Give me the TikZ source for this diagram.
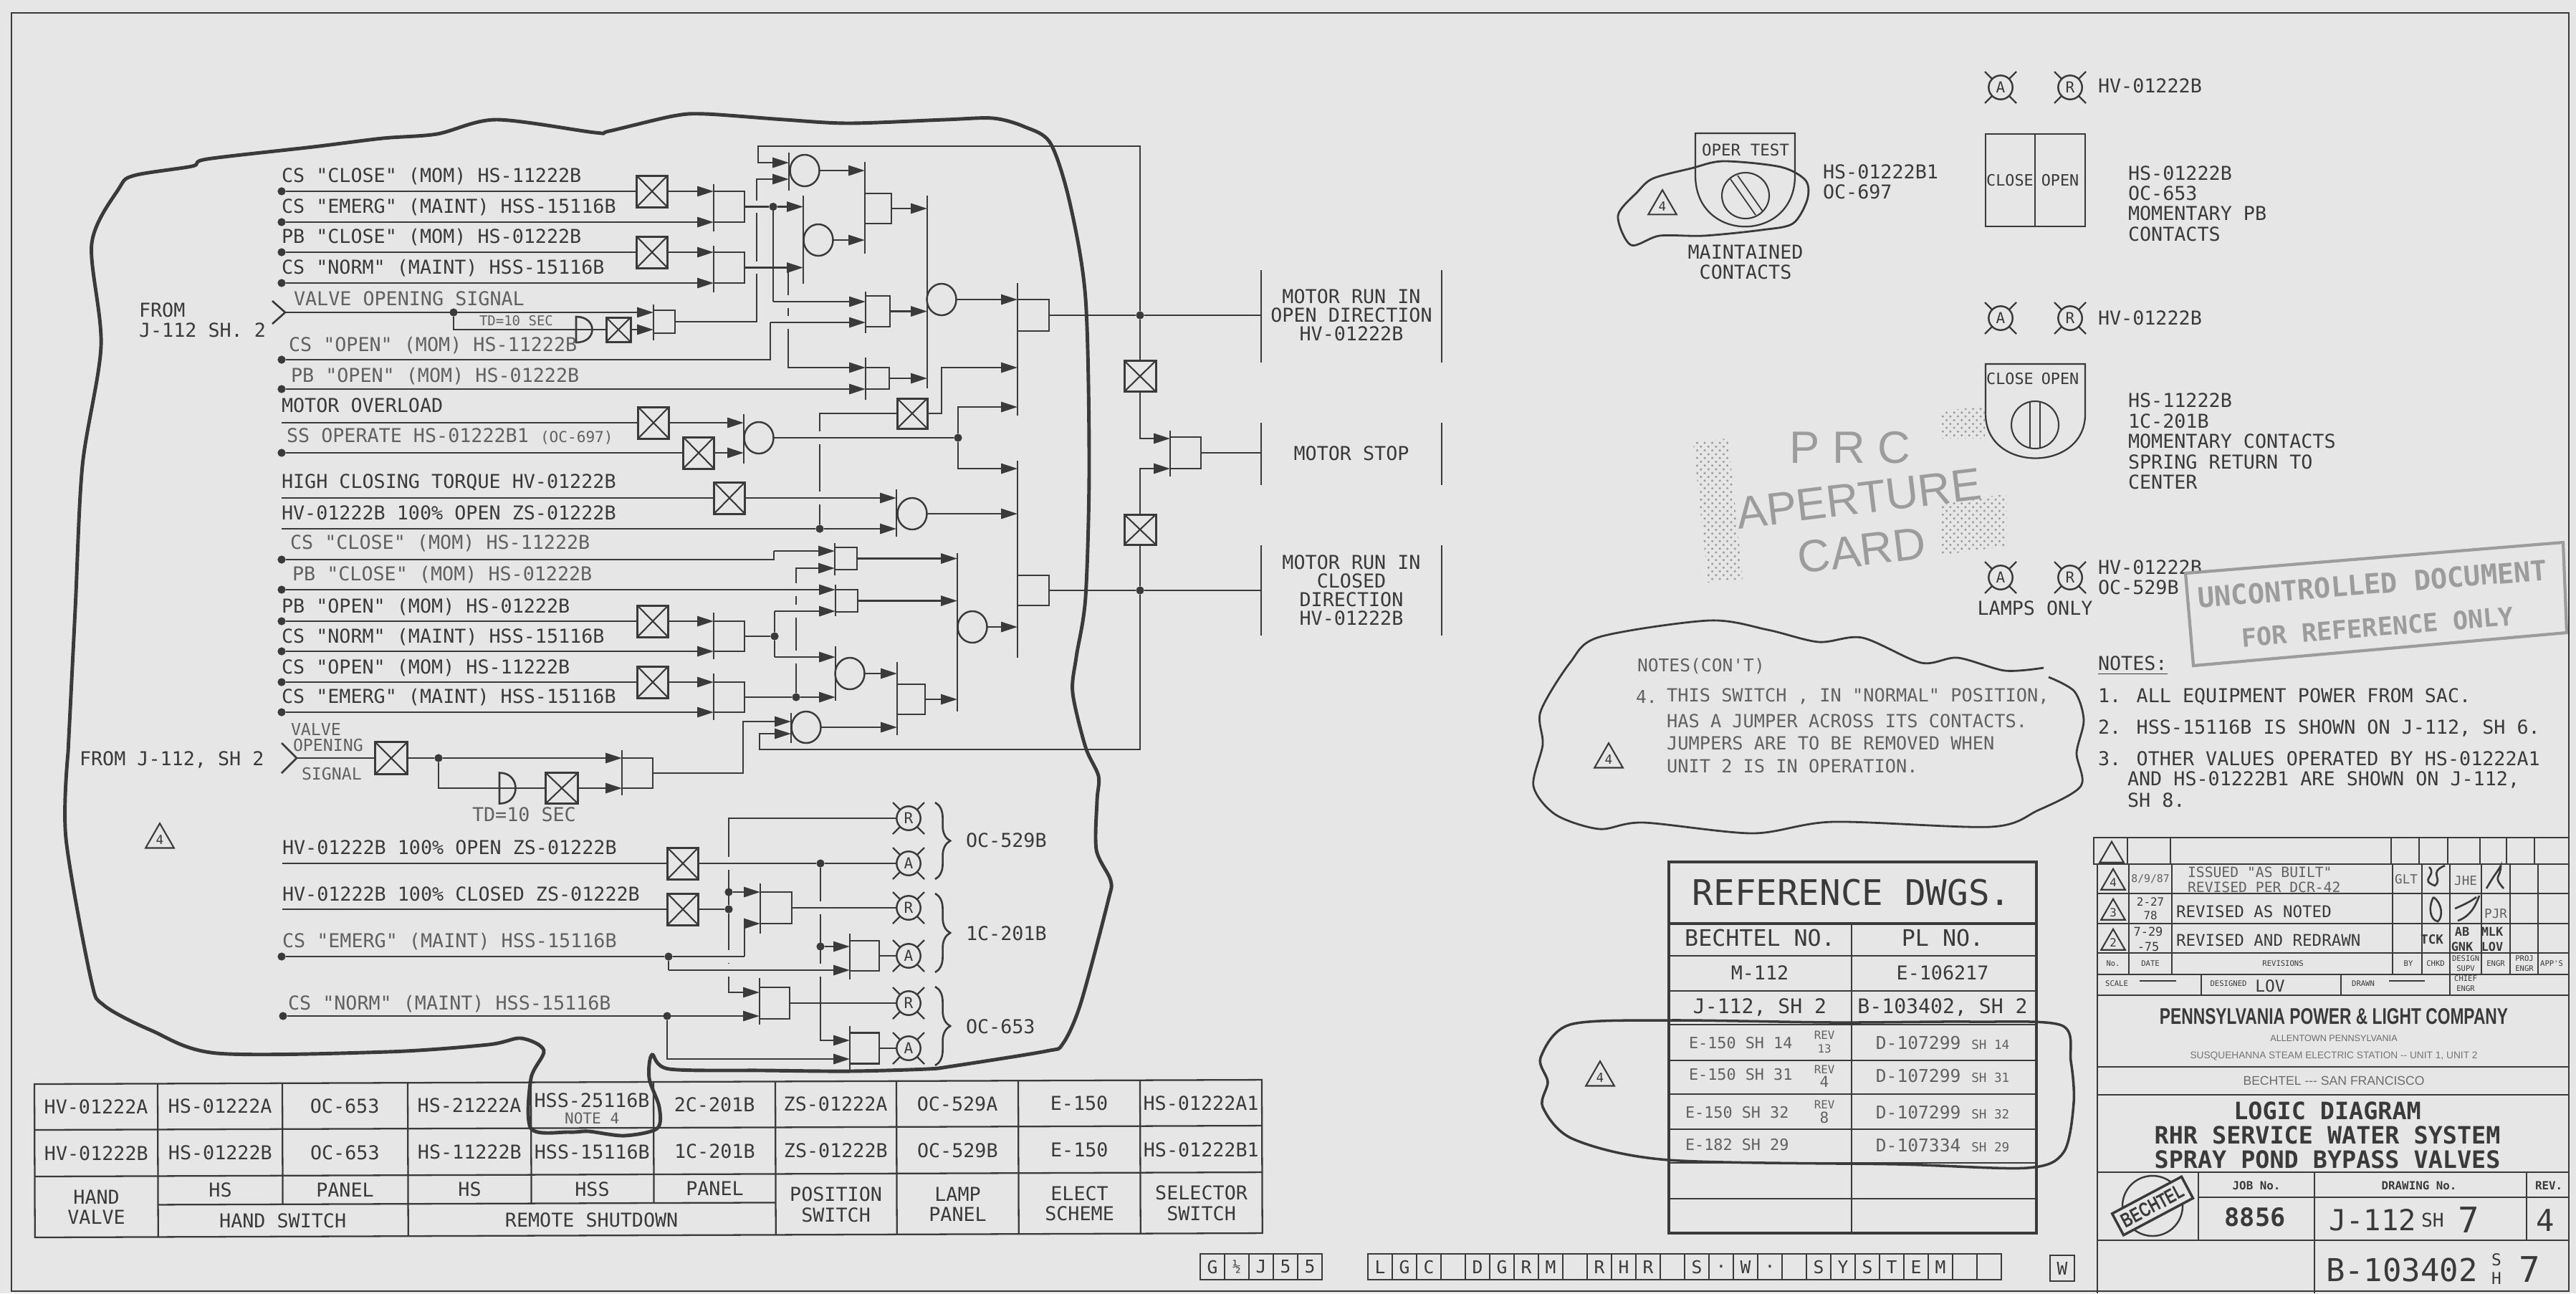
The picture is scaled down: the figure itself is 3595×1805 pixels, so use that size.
\documentclass[tikz,border=0pt]{standalone}
\usepackage{fontspec}
\setmainfont[Ligatures=TeXOff]{DejaVu Sans Mono}
\newfontfamily\stampfont{Liberation Sans}
\newfontfamily\narrowfont[FakeStretch=0.72]{Liberation Sans}
\usetikzlibrary{positioning,arrows.meta,shapes.geometric,shapes.misc,patterns,decorations.pathreplacing}
\definecolor{paper}{HTML}{E6E6E6}
\definecolor{ink}{HTML}{3A3A3A}
\definecolor{faded}{HTML}{9C9C9C}
\pgfdeclarelayer{wires}
\pgfsetlayers{wires,main}
\begin{document}
\begin{tikzpicture}[
  x=0.01cm, y=-0.01cm,
  every node/.style = {inner sep=0pt, outer sep=0pt, text=ink},
  wh/.style 2 args = {minimum width=#1*0.01cm, minimum height=#2*0.01cm},
  fs/.style = {font=\fontsize{#1}{#1}\selectfont},
  lbl/.style = {anchor=west, align=left, font=\fontsize{7.6}{8.1}\selectfont},
  hand/.style = {lbl, text=ink!80},
  ctr/.style = {align=center, font=\fontsize{7.6}{8.1}\selectfont},
  wire/.style = {draw=ink, line width=0.75pt},
  sig/.style = {wire, -{Triangle[length=6.5pt,width=4pt]}},
  hop/.style = {preaction={draw=paper, line width=5pt, arrows=-}},
  cloudline/.style = {draw=ink, line width=1pt},
  tabline/.style = {draw=ink, line width=0.65pt},
  dot/.style = {circle, fill=ink, minimum size=3.2pt},
  xbox/.style = {draw=ink, line width=0.85pt, wh={43}{44},
    path picture={\draw[ink, line width=0.6pt]
      (path picture bounding box.south west) -- (path picture bounding box.north east)
      (path picture bounding box.north west) -- (path picture bounding box.south east);}},
  gatebox/.style = {draw=ink, line width=0.7pt, anchor=west},
  gatebar/.style = {fill=ink, minimum width=0.8pt, minimum height=#1*0.01cm},
  orgate/.style = {ellipse, draw=ink, line width=0.7pt, wh={41}{44}},
  dgate/.style = {anchor=west, wh={30}{36}},
  lampx/.style = {cross out, draw=ink, line width=0.65pt, wh={44}{44}},
  lampc/.style = {circle, draw=ink, line width=0.7pt, fill=paper, minimum size=9.5pt, fs=6},
  revtri/.style = {regular polygon, regular polygon sides=3, draw=ink, line width=0.6pt,
    minimum size=13pt, fs=5},
  cell/.style = {rectangle, draw=ink, line width=0.6pt, wh={34}{36}, fs=7},
  stamp/.style = {text=faded, font=\stampfont\fontsize{18}{18}\selectfont},
  grain/.style = {pattern=crosshatch dots, pattern color=faded},
  node distance=0pt
  ]
  \useasboundingbox (0,0) rectangle (3595,1805);
  % input rows, upper logic
  \node[dot] (r1) at (393,267) {};
  \node[dot] (r2) at (393,310) {};
  \node[dot] (r3) at (393,352) {};
  \node[dot] (r4) at (393,395) {};
  \coordinate (s1) at (398,436);
  \node[dot] (r6) at (393,502) {};
  \node[dot] (r7) at (393,543) {};
  \coordinate (r8) at (393,590);
  \node[dot] (r9) at (393,632) {};
  \coordinate (r10) at (393,695);
  \coordinate (r11) at (393,738);
  \node[dot] (r12) at (393,781) {};
  \node[dot] (r13) at (393,823) {};
  \node[dot] (r14) at (393,867) {};
  \node[dot] (r15) at (393,909) {};
  \node[dot] (r16) at (393,952) {};
  \node[dot] (r17) at (393,994) {};
  \coordinate (s2) at (414,1058);
  \node[lbl] (t1) at (393,246) {CS "CLOSE" (MOM) HS-11222B};
  \node[lbl] (t2) at (393,289) {CS "EMERG" (MAINT) HSS-15116B};
  \node[lbl] (t3) at (393,331) {PB "CLOSE" (MOM) HS-01222B};
  \node[lbl] (t4) at (393,374) {CS "NORM" (MAINT) HSS-15116B};
  \node[hand] (t5) at (410,417) {VALVE OPENING SIGNAL};
  \node[hand] (t6) at (403,482) {CS "OPEN" (MOM) HS-11222B};
  \node[hand] (t7) at (406,525) {PB "OPEN" (MOM) HS-01222B};
  \node[lbl] (t8) at (393,566) {MOTOR OVERLOAD};
  \node[hand] (t9) at (400,609) {SS OPERATE HS-01222B1 {\fontsize{6}{6}\selectfont (OC-697)}};
  \node[lbl] (t10) at (393,673) {HIGH CLOSING TORQUE HV-01222B};
  \node[lbl] (t11) at (393,716) {HV-01222B 100\% OPEN ZS-01222B};
  \node[hand] (t12) at (405,758) {CS "CLOSE" (MOM) HS-11222B};
  \node[hand] (t13) at (408,802) {PB "CLOSE" (MOM) HS-01222B};
  \node[lbl] (t14) at (393,847) {PB "OPEN" (MOM) HS-01222B};
  \node[lbl] (t15) at (393,889) {CS "NORM" (MAINT) HSS-15116B};
  \node[lbl] (t16) at (393,932) {CS "OPEN" (MOM) HS-11222B};
  \node[lbl] (t17) at (393,973) {CS "EMERG" (MAINT) HSS-15116B};
  \node[lbl] (f1) at (194,447) {FROM\\J-112 SH. 2};
  \node[lbl] (f2) at (111,1060) {FROM J-112, SH 2};
  \node[hand, fs=6.6] (v1) at (406,1018) {VALVE};
  \node[hand, fs=6.6] (v2) at (409,1040) {OPENING};
  \node[hand, fs=6.6] (v3) at (421,1080) {SIGNAL};
  \node[revtri] (tri1) at (223,1172) {4};
  % logic, upper block
  \node[xbox] (x1) at (910,267) {};
  \node[xbox] (x2) at (910,352) {};
  \node[gatebox, wh={43}{43}] (g1) at (996,288.5) {};
  \node[gatebar=66] (g1b) at (996,290) {};
  \node[gatebox, wh={43}{43}] (g2) at (996,373.5) {};
  \node[gatebar=65] (g2b) at (996,375) {};
  \node[dot] (d1) at (1079,288.5) {};
  \node[orgate] (o0) at (1123,238) {};
  \node[gatebar=53] (o0b) at (1101,239.5) {};
  \node[orgate] (o1) at (1142,335) {};
  \node[gatebar=123] (o1b) at (1121,334.5) {};
  \node[gatebox, wh={37}{42}] (g3) at (1207,291) {};
  \node[gatebar=128] (g3b) at (1207,290) {};
  \node[gatebox, wh={34}{43}] (g4) at (1208,434.5) {};
  \node[gatebar=58] (g4b) at (1208,436) {};
  \node[gatebox, wh={33}{30}] (g5) at (1208,528) {};
  \node[gatebar=59] (g5b) at (1208,528.5) {};
  \node[orgate] (o2) at (1314,418) {};
  \node[gatebar=269] (o2b) at (1294,407.5) {};
  \node[gatebox, wh={44}{44}] (g6) at (1420,440) {};
  \node[gatebar=185] (g6b) at (1420,487.5) {};
  \node[xbox, wh={42}{42}] (x7) at (1273,577) {};
  \node[dgate] (dl1) at (804,460) {};
  \node[xbox, wh={34}{34}] (x3) at (863,460) {};
  \node[dot] (d2) at (633,436) {};
  \node[hand, fs=5.4] (td1) at (669,448) {TD=10 SEC};
  \node[gatebox, wh={30}{32}] (g10) at (912,449) {};
  \node[gatebar=50] (g10b) at (912,450) {};
  \node[xbox] (x8) at (912,590) {};
  \node[xbox] (x9) at (975,632) {};
  \node[orgate] (o3) at (1059,611) {};
  \node[gatebar=69] (o3b) at (1038,612.5) {};
  \node[dot] (d3) at (1337,611) {};
  \node[xbox] (x10) at (1018,695) {};
  \node[orgate] (o4) at (1273,717) {};
  \node[gatebar=66] (o4b) at (1251,716) {};
  \node[dot] (d4) at (1144,738) {};
  \node[gatebox, wh={44}{42}] (g11) at (1420,824) {};
  \node[gatebar=275] (g11b) at (1420,780.5) {};
  % logic, lower block
  \node[gatebox, wh={31}{31}] (ga) at (1165,779.5) {};
  \node[gatebar=45] (gab) at (1165,780.5) {};
  \node[gatebox, wh={31}{31}] (gb) at (1166,838.5) {};
  \node[gatebar=44] (gbb) at (1166,838) {};
  \node[xbox] (x11) at (911,867) {};
  \node[xbox] (x12) at (911,952) {};
  \node[gatebox, wh={43}{42}] (g12) at (996,888) {};
  \node[gatebar=65] (g12b) at (996,887.5) {};
  \node[gatebox, wh={43}{42}] (g13) at (996,973) {};
  \node[gatebar=65] (g13b) at (996,972.5) {};
  \node[dot] (d6) at (1081,888) {};
  \node[dot] (d7) at (1111,973) {};
  \node[orgate] (o5) at (1186,940) {};
  \node[gatebar=76] (o5b) at (1166,940) {};
  \node[gatebox, wh={39}{42}] (g14) at (1252,976) {};
  \node[gatebar=102] (g14b) at (1252,975) {};
  \node[orgate] (o6) at (1357,875) {};
  \node[gatebar=221] (o6b) at (1336,882.5) {};
  \node[orgate] (o7) at (1125,1015) {};
  \node[gatebar=42] (o7b) at (1104,1016) {};
  \node[xbox, wh={45}{45}] (x13) at (546,1058) {};
  \node[dot] (d9) at (612,1058) {};
  \node[dgate, wh={30}{43}] (dl2) at (697,1100) {};
  \node[xbox, wh={45}{43}] (x14) at (784,1100) {};
  \node[gatebox, wh={43}{42}] (g15) at (868,1079) {};
  \node[gatebar=63] (g15b) at (868,1078.5) {};
  \node[hand] (td2) at (659,1137) {TD=10 SEC};
  % stop gate and output panel
  \node[xbox, wh={44}{43}] (x4) at (1591,525) {};
  \node[xbox, wh={44}{42}] (x5) at (1591,739) {};
  \node[dot] (d5) at (1591,440) {};
  \node[dot] (d8) at (1591,824) {};
  \node[gatebox, wh={43}{44}] (g20) at (1633,632) {};
  \node[gatebar=64] (g20b) at (1633,633) {};
  \node[gatebar=129] (pn1a) at (1760,441.5) {};
  \node[gatebar=129] (pn1b) at (2012,441.5) {};
  \node[gatebar=87] (pn2a) at (1760,633.5) {};
  \node[gatebar=87] (pn2b) at (2012,633.5) {};
  \node[gatebar=126] (pn3a) at (1760,824) {};
  \node[gatebar=126] (pn3b) at (2012,824) {};
  \node[ctr, font=\fontsize{7.6}{7.4}\selectfont] (m1) at (1886,440) {MOTOR RUN IN\\OPEN DIRECTION\\HV-01222B};
  \node[ctr] (m2) at (1886,633) {MOTOR STOP};
  \node[ctr, font=\fontsize{7.6}{7.4}\selectfont] (m3) at (1886,824) {MOTOR RUN IN\\CLOSED\\DIRECTION\\HV-01222B};
  % lamp block
  \coordinate (r18) at (394,1205);
  \coordinate (r19) at (394,1269);
  \node[dot] (r20) at (393,1335) {};
  \node[dot] (r21) at (395,1418) {};
  \node[lbl] (b1) at (394,1183) {HV-01222B 100\% OPEN ZS-01222B};
  \node[lbl] (b2) at (394,1248) {HV-01222B 100\% CLOSED ZS-01222B};
  \node[hand] (b3) at (394,1314) {CS "EMERG" (MAINT) HSS-15116B};
  \node[hand] (b4) at (402,1401) {CS "NORM" (MAINT) HSS-15116B};
  \node[xbox] (x15) at (953,1205) {};
  \node[xbox] (x16) at (953,1269) {};
  \node[dot] (d10) at (1145,1205) {};
  \node[dot] (d11) at (1017,1269) {};
  \node[dot] (d12) at (1017,1245) {};
  \node[dot] (d13) at (933,1335) {};
  \node[dot] (d14) at (1145,1321) {};
  \node[dot] (d15) at (931,1418) {};
  \node[gatebox, wh={44}{44}] (g16) at (1061,1267) {};
  \node[gatebar=70] (g16b) at (1061,1268) {};
  \node[gatebox, wh={41}{42}] (g17) at (1186,1334) {};
  \node[gatebar=64] (g17b) at (1186,1335) {};
  \node[gatebox, wh={42}{44}] (g18) at (1060,1400) {};
  \node[gatebar=65] (g18b) at (1060,1397.5) {};
  \node[gatebox, wh={41}{43}] (g19) at (1186,1463) {};
  \node[gatebar=61] (g19b) at (1186,1462.5) {};
  \node[lampx] (l1x) at (1268,1142) {};
  \node[lampc] (l1) at (1268,1142) {R};
  \node[lampx] (l2x) at (1268,1205) {};
  \node[lampc] (l2) at (1268,1205) {A};
  \node[lampx] (l3x) at (1268,1267) {};
  \node[lampc] (l3) at (1268,1267) {R};
  \node[lampx] (l4x) at (1268,1334) {};
  \node[lampc] (l4) at (1268,1334) {A};
  \node[lampx] (l5x) at (1268,1400) {};
  \node[lampc] (l5) at (1268,1400) {R};
  \node[lampx] (l6x) at (1268,1463) {};
  \node[lampc] (l6) at (1268,1463) {A};
  \draw[wire, decorate, decoration={brace, amplitude=6pt}] (1305,1120) -- (1305,1227);
  \draw[wire, decorate, decoration={brace, amplitude=6pt}] (1305,1247) -- (1305,1357);
  \draw[wire, decorate, decoration={brace, amplitude=6pt}] (1305,1377) -- (1305,1487);
  \node[lbl] (lb1) at (1348,1173) {OC-529B};
  \node[lbl] (lb2) at (1348,1303) {1C-201B};
  \node[lbl] (lb3) at (1348,1433) {OC-653};
  % all connectors go behind the nodes
  \begin{pgfonlayer}{wires}
    \fill[paper] (0,0) rectangle (3595,1805);
    \coordinate (c1t) at (1058,204);
    \coordinate (c1) at (1058,227);
    \coordinate (c2) at (1056,250);
    \coordinate (c4) at (1100,373.5);
    \coordinate (c5) at (1079,421);
    \coordinate (c6) at (1075,450);
    \coordinate (c7) at (1314,513);
    \coordinate (c8) at (1420,568);
    \coordinate (c9) at (1420,654);
    \coordinate (c12) at (1080,769);
    \coordinate (c13) at (1081,853);
    \coordinate (c14) at (1081,917);
    \coordinate (c15) at (1111,793);
    \coordinate (c16) at (1037,1007);
    \coordinate (c17) at (1060,1024);
    \coordinate (c18) at (1060,1046);
    \coordinate (c21) at (1017,1385);
    \coordinate (c22) at (1039,1335);
    \coordinate (c23) at (1039,1289);
    \coordinate (c24) at (1145,1452);
    \coordinate (c25) at (933,1354);
    \coordinate (c26) at (931,1478);
    \coordinate (c27) at (1591,612);
    \coordinate (c28) at (1591,654);
    \draw[wire] (r1) -- (x1);
    \draw[sig] (x1) -- (g1b |- x1);
    \draw[sig] (r2) -- (g1b |- r2);
    \draw[wire] (r3) -- (x2);
    \draw[sig] (x2) -- (g2b |- x2);
    \draw[sig] (r4) -- (g2b |- r4);
    \draw[wire] (s1) ++(-18,-16) -- (s1) -- ++(-18,16);
    \draw[sig] (s1) -- (g10b |- s1);
    \draw[wire] (d2) |- (dl1.center) -- (x3);
    \draw[sig] (x3) -- (g10b |- x3);
    \draw[wire] (dl1.north west) .. controls (dl1.north east) and (dl1.south east) .. (dl1.south west) -- cycle;
    \draw[sig] (g10.east) -| (c2) -- (o0b |- c2);
    \draw[wire, hop] (g1.east) -- (d1);
    \draw[sig, hop] (d1) -- (o1b |- d1);
    \draw[sig, hop] (g2.east) -- (o1b |- g2.east);
    \draw[sig] (c4) |- (g5b |- g5.north);
    \draw[sig, hop] (c5) -- (g4b |- c5);
    \draw[sig, hop] (c6) -- (g4b |- c6);
    \draw[wire] (d1) -- (c5);
    \draw[wire] (r6) -| (c6);
    \draw[sig] (r7) -- (g5b |- r7);
    \draw[sig] (o0) -- (g3b |- o0);
    \draw[sig] (o1) -- (g3b |- o1);
    \draw[sig] (g3.east) -- (o2b |- g3.east);
    \draw[sig] (g4.east) -- (o2b |- g4.east);
    \draw[sig] (g5.east) -- (o2b |- g5.east);
    \draw[sig] (o2) -- (g6b |- o2);
    \draw[wire] (d4) |- (x7);
    \draw[sig] (x7) -| (c7) -- (c7 -| g6b);
    \draw[wire] (r8) -- (x8);
    \draw[sig] (x8) -- (o3b |- x8);
    \draw[wire] (r9) -- (x9);
    \draw[sig] (x9) -- (o3b |- x9);
    \draw[wire, hop] (o3) -- (d3);
    \draw[sig] (d3) |- (c8);
    \draw[sig] (d3) |- (c9);
    \draw[wire] (r10) -- (x10);
    \draw[sig, hop] (x10) -- (o4b |- x10);
    \draw[wire] (r11) -- (d4);
    \draw[sig] (d4) -- (o4b |- d4);
    \draw[sig] (o4) -- (g11b |- o4);
    \draw[sig] (d7) |- (gab |- c15);
    \draw[wire] (r12) -| (c12);
    \draw[sig] (c12) -- (gab |- c12);
    \draw[sig, hop] (r13) -- (gbb |- r13);
    \draw[sig, hop] (c13) -- (gbb |- c13);
    \draw[sig, hop] (c14) -- (o5b |- c14);
    \draw[wire] (d6) -- (c13);
    \draw[wire] (d6) -- (c14);
    \draw[wire] (r14) -- (x11);
    \draw[sig] (x11) -- (g12b |- x11);
    \draw[sig] (r15) -- (g12b |- r15);
    \draw[wire] (r16) -- (x12);
    \draw[sig] (x12) -- (g13b |- x12);
    \draw[sig] (r17) -- (g13b |- r17);
    \draw[wire] (g12.east) -- (d6);
    \draw[wire] (g13.east) -- (d7);
    \draw[sig] (d7) -- (o5b |- d7);
    \draw[sig] (o5) -- (g14b |- o5);
    \draw[sig] (o7) -- (g14b |- o7);
    \draw[sig] (g14.east) -- (o6b |- g14.east);
    \draw[sig] (ga.east) -- (o6b |- ga.east);
    \draw[sig] (gb.east) -- (o6b |- gb.east);
    \draw[sig] (o6) -- (g11b |- o6);
    \draw[wire] (s2) ++(-21,-21) -- (s2) -- ++(-21,21);
    \draw[wire] (s2) -- (x13);
    \draw[wire] (x13) -- (d9);
    \draw[sig] (d9) -- (g15b |- d9);
    \draw[wire] (d9) |- (dl2.center) -- (x14);
    \draw[wire] (dl2.north west) .. controls (dl2.north east) and (dl2.south east) .. (dl2.south west) -- cycle;
    \draw[sig] (x14) -- (g15b |- x14);
    \draw[sig] (g15.east) -| (c16) -- (o7b |- c16);
    \draw[sig] (d8) |- (c18) -- (c17) -- (o7b |- c17);
    \draw[sig] (d5) |- (c1t) -- (c1) -- (o0b |- c1);
    \draw[wire] (g6.east) -- (d5) -- (pn1a |- d5);
    \draw[wire] (g11.east) -- (d8) -- (pn3a |- d8);
    \draw[wire] (d5) -- (x4);
    \draw[wire] (d8) -- (x5);
    \draw[sig] (x4) -- (c27) -- (g20b |- c27);
    \draw[sig] (x5) -- (c28) -- (g20b |- c28);
    \draw[wire] (g20.east) -- (pn2a |- g20.east);
    % lamps
    \draw[wire] (d11) |- (l1);
    \draw[sig] (d11) |- (g18b |- c21);
    \draw[sig] (d10) |- (g19b |- c24);
    \draw[wire] (r18) -- (x15);
    \draw[wire, hop] (x15) -- (d10);
    \draw[wire] (d10) -- (l2);
    \draw[wire] (r19) -- (x16);
    \draw[wire] (x16) -- (d11);
    \draw[sig] (d12) -- (g16b |- d12);
    \draw[wire, hop] (g16.east) -- (l3);
    \draw[wire] (r20) -- (d13);
    \draw[wire, hop] (d13) -- (c22);
    \draw[sig] (c22) -- (c23) -- (g16b |- c23);
    \draw[sig, hop] (c25) -- (g17b |- c25);
    \draw[wire] (d13) -- (c25);
    \draw[sig] (d14) -- (g17b |- d14);
    \draw[wire] (g17.east) -- (l4);
    \draw[wire] (g18.east) -- (l5);
    \draw[sig] (r21) -- (g18b |- r21);
    \draw[sig] (d15) |- (g19b |- c26);
    \draw[wire] (g19.east) -- (l6);
  \end{pgfonlayer}
  % large cloud
  \draw[cloudline, line width=1.4pt] plot[smooth] coordinates {(95,1050) (92,1170) (127,1367) (145,1403) (211,1438)
    (303,1470) (541,1468) (681,1458) (727,1449) (759,1466) (741,1505) (741,1575) (794,1580) (822,1579) (871,1585)
    (917,1575) (920,1545) (906,1505) (910,1472) (934,1492) (1068,1494) (1186,1495) (1293,1492) (1329,1488)
    (1460,1467) (1483,1457) (1508,1401) (1546,1259) (1550,1229) (1530,1186) (1531,1117) (1533,1083) (1515,1043)
    (1497,967) (1502,917) (1515,833) (1520,650) (1515,417) (1493,283) (1466,200) (1430,177) (1386,165) (1319,167)
    (1185,172) (1095,167) (984,159) (939,162) (850,183) (830,185) (692,167) (610,187) (534,193) (437,205) (289,222)
    (268,232) (187,245) (166,263) (128,340) (141,483) (115,650) (105,850) (95,1050)};
  % abbreviations table
  \begin{scope}[rotate around={0.2:(48,1513)}]
    \draw[tabline] (48,1513) rectangle (1761,1727);
    \draw[tabline] (48,1577) -- (1761,1577) (48,1642) -- (1761,1642) (220,1682) -- (1082,1682);
    \draw[tabline] (220,1513) -- (220,1727) (394,1513) -- (394,1682) (569,1513) -- (569,1727) (741,1513) -- (741,1682)
      (912,1513) -- (912,1682) (1082,1513) -- (1082,1727) (1251,1513) -- (1251,1727) (1421,1513) -- (1421,1727)
      (1591,1513) -- (1591,1727);
    \node[ctr] (a1) at (134,1545) {HV-01222A};
    \node[ctr] (a2) at (307,1545) {HS-01222A};
    \node[ctr] (a3) at (481,1545) {OC-653};
    \node[ctr] (a4) at (655,1545) {HS-21222A};
    \node[ctr] (a5) at (826,1538) {HSS-25116B};
    \node[ctr, fs=6, text=ink!80] (a5n) at (826,1563) {NOTE 4};
    \node[ctr] (a6) at (997,1545) {2C-201B};
    \node[ctr] (a7) at (1166,1545) {ZS-01222A};
    \node[ctr] (a8) at (1336,1545) {OC-529A};
    \node[ctr] (a9) at (1506,1545) {E-150};
    \node[ctr] (a10) at (1676,1545) {HS-01222A1};
    \node[ctr] (e1) at (134,1610) {HV-01222B};
    \node[ctr] (e2) at (307,1610) {HS-01222B};
    \node[ctr] (e3) at (481,1610) {OC-653};
    \node[ctr] (e4) at (655,1610) {HS-11222B};
    \node[ctr] (e5) at (826,1610) {HSS-15116B};
    \node[ctr] (e6) at (997,1610) {1C-201B};
    \node[ctr] (e7) at (1166,1610) {ZS-01222B};
    \node[ctr] (e8) at (1336,1610) {OC-529B};
    \node[ctr] (e9) at (1506,1610) {E-150};
    \node[ctr] (e10) at (1676,1610) {HS-01222B1};
    \node[ctr] (h1) at (134,1685) {HAND\\VALVE};
    \node[ctr] (h2) at (307,1662) {HS};
    \node[ctr] (h3) at (481,1662) {PANEL};
    \node[ctr] (h4) at (655,1662) {HS};
    \node[ctr] (h5) at (826,1662) {HSS};
    \node[ctr] (h6) at (997,1662) {PANEL};
    \node[ctr] (h7) at (1166,1685) {POSITION\\SWITCH};
    \node[ctr] (h8) at (1336,1685) {LAMP\\PANEL};
    \node[ctr] (h9) at (1506,1685) {ELECT\\SCHEME};
    \node[ctr] (h10) at (1676,1685) {SELECTOR\\SWITCH};
    \node[ctr] (k1) at (394,1705) {HAND SWITCH};
    \node[ctr] (k2) at (825,1705) {REMOTE SHUTDOWN};
  \end{scope}
  % code boxes
  \node[cell] (u1) at (1692,1768) {G};
  \node[cell, right=of u1] (u2) {\fontsize{5.5}{5.5}\selectfont\textonehalf};
  \node[cell, right=of u2] (u3) {J};
  \node[cell, right=of u3] (u4) {5};
  \node[cell, right=of u4] (u5) {5};
  \node[cell] (c1x) at (1926,1768) {L};
  \node[cell, right=of c1x] (c2x) {G};
  \node[cell, right=of c2x] (c3x) {C};
  \node[cell, right=of c3x] (c4x) {};
  \node[cell, right=of c4x] (c5x) {D};
  \node[cell, right=of c5x] (c6x) {G};
  \node[cell, right=of c6x] (c7x) {R};
  \node[cell, right=of c7x] (c8x) {M};
  \node[cell, right=of c8x] (c9x) {};
  \node[cell, right=of c9x] (c10x) {R};
  \node[cell, right=of c10x] (c11x) {H};
  \node[cell, right=of c11x] (c12x) {R};
  \node[cell, right=of c12x] (c13x) {};
  \node[cell, right=of c13x] (c14x) {S};
  \node[cell, right=of c14x] (c15x) {.};
  \node[cell, right=of c15x] (c16x) {W};
  \node[cell, right=of c16x] (c17x) {.};
  \node[cell, right=of c17x] (c18x) {};
  \node[cell, right=of c18x] (c19x) {S};
  \node[cell, right=of c19x] (c20x) {Y};
  \node[cell, right=of c20x] (c21x) {S};
  \node[cell, right=of c21x] (c22x) {T};
  \node[cell, right=of c22x] (c23x) {E};
  \node[cell, right=of c23x] (c24x) {M};
  \node[cell, right=of c24x] (c25x) {};
  \node[cell, right=of c25x] (c26x) {};
  \node[cell] (w1) at (2878,1770) {W};
  % switch details
  \node[lampx] (p1x) at (2792,122) {};
  \node[lampc] (p1) at (2792,122) {A};
  \node[lampx] (p2x) at (2889,122) {};
  \node[lampc] (p2) at (2889,122) {R};
  \node[lbl] (p3) at (2928,120) {HV-01222B};
  \node[lampx] (p4x) at (2792,444) {};
  \node[lampc] (p4) at (2792,444) {A};
  \node[lampx] (p5x) at (2889,444) {};
  \node[lampc] (p5) at (2889,444) {R};
  \node[lbl] (p6) at (2928,444) {HV-01222B};
  \node[lampx] (p7x) at (2792,806) {};
  \node[lampc] (p7) at (2792,806) {A};
  \node[lampx] (p8x) at (2889,806) {};
  \node[lampc] (p8) at (2889,806) {R};
  \node[lbl] (p9) at (2928,806) {HV-01222B\\OC-529B};
  \node[ctr] (p10) at (2840,849) {LAMPS ONLY};
  \draw[tabline] (2366,245) -- (2366,186) -- (2505,186) -- (2505,245) .. controls (2505,340) and (2366,340) .. (2366,245) -- cycle;
  \node[ctr, fs=6.4] (s3) at (2436,209) {OPER TEST};
  \node[ellipse, draw=ink, line width=0.6pt, wh={66}{64},
    path picture={\draw[ink, line width=0.5pt] (-21,-23) -- (14,27) (-11,-28) -- (24,22);}] (s4) at (2436,273) {};
  \node[lbl] (s5) at (2544,254) {HS-01222B1\\OC-697};
  \node[ctr] (s6) at (2436,366) {MAINTAINED\\CONTACTS};
  \draw[cloudline, line width=0.8pt] plot[smooth cycle] coordinates {(2276,342) (2258,301) (2285,268) (2307,249) (2360,235) (2405,225)
    (2485,233) (2520,252) (2522,279) (2502,312) (2458,321) (2378,329) (2316,329)};
  \node[revtri] (tri2) at (2320,288) {4};
  \draw[tabline] (2771,187) rectangle (2910,316) (2840,187) -- (2840,316);
  \node[ctr, fs=6.2] (s7) at (2805,252) {CLOSE};
  \node[ctr, fs=6.2] (s8) at (2875,252) {OPEN};
  \node[lbl] (s9) at (2970,284) {HS-01222B\\OC-653\\MOMENTARY PB\\CONTACTS};
  \draw[tabline] (2771,508) -- (2910,508) -- (2910,578) .. controls (2910,660) and (2771,660) .. (2771,578) -- cycle;
  \node[ctr, fs=6.2] (s10) at (2805,529) {CLOSE};
  \node[ctr, fs=6.2] (s11) at (2875,529) {OPEN};
  \node[ellipse, draw=ink, line width=0.6pt, wh={66}{66},
    path picture={\draw[ink, line width=0.5pt] (-7,-40) -- (-7,40) (7,-40) -- (7,40);}] (s12) at (2840,593) {};
  \node[lbl] (s13) at (2970,616) {HS-11222B\\1C-201B\\MOMENTARY CONTACTS\\SPRING RETURN TO\\CENTER};
  % stamps
  \fill[grain, rotate around={6:(2398,712)}] (2373,614) rectangle (2422,811);
  \fill[grain] (2708,573) -- (2770,568) -- (2770,612) -- (2708,612) -- cycle;
  \fill[grain] (2708,700) -- (2800,690) -- (2800,762) -- (2708,775) -- cycle;
  \node[stamp] (pr1) at (2582,625) {P R C};
  \node[stamp, rotate=7] (pr2) at (2594,696) {APERTURE};
  \node[stamp, rotate=7] (pr3) at (2598,768) {CARD};
  \draw[draw=faded, line width=1.2pt] (3050,800) -- (3577,757) -- (3582,883) -- (3061,929) -- cycle;
  \node[rotate=4.6, text=faded, fs=11] (un1) at (3311,815) {\bfseries UNCONTROLLED DOCUMENT};
  \node[rotate=4.6, text=faded, fs=10] (un2) at (3318,875) {\bfseries FOR REFERENCE ONLY};
  % notes
  \node[lbl, fs=7, text=ink!80] (n1) at (2285,930) {NOTES(CON'T)};
  \node[lbl, fs=7, text=ink!80] (n2) at (2283,972) {4.};
  \node[lbl, fs=7.2, text=ink!80] (n3) at (2326,972) {THIS SWITCH , IN "NORMAL" POSITION,};
  \node[lbl, fs=7.2, text=ink!80] (n4) at (2326,1006) {HAS A JUMPER ACROSS ITS CONTACTS.};
  \node[lbl, fs=7.2, text=ink!80] (n5) at (2326,1037) {JUMPERS ARE TO BE REMOVED WHEN};
  \node[lbl, fs=7.2, text=ink!80] (n6) at (2326,1069) {UNIT 2 IS IN OPERATION.};
  \node[revtri] (tri3) at (2245,1060) {4};
  \draw[cloudline, line width=0.8pt] plot[smooth] coordinates {(2852,932) (2798,936) (2732,918) (2681,925) (2599,890) (2538,896) (2467,879)
    (2385,866) (2232,889) (2191,925) (2150,993) (2153,1039) (2140,1097) (2171,1137) (2232,1157) (2293,1148)
    (2446,1163) (2558,1147) (2778,1154) (2844,1131) (2904,1097) (2898,1051) (2908,1005) (2895,965) (2859,945)};
  \node[lbl] (nt0) at (2928,929) {\underline{NOTES:}};
  \node[lbl] (nt1) at (2928,972) {1. ALL EQUIPMENT POWER FROM SAC.};
  \node[lbl] (nt2) at (2928,1016) {2. HSS-15116B IS SHOWN ON J-112, SH 6.};
  \node[lbl] (nt3) at (2928,1059) {3. OTHER VALUES OPERATED BY HS-01222A1};
  \node[lbl] (nt4) at (2969,1088) {AND HS-01222B1 ARE SHOWN ON J-112,};
  \node[lbl] (nt5) at (2969,1117) {SH 8.};
  % reference drawings
  \draw[draw=ink, line width=1.1pt] (2329,1203) rectangle (2842,1721);
  \draw[tabline, line width=0.9pt] (2329,1289) -- (2842,1289);
  \draw[tabline] (2329,1334) -- (2842,1334) (2329,1383) -- (2842,1383) (2329,1430) -- (2842,1430) (2329,1480) -- (2842,1480)
    (2329,1527) -- (2842,1527) (2329,1576) -- (2842,1576) (2329,1623) -- (2842,1623) (2329,1673) -- (2842,1673)
    (2584,1289) -- (2584,1721);
  \node[ctr, fs=14] (rf0) at (2584,1246) {REFERENCE DWGS.};
  \node[ctr, fs=9] (rf1) at (2456,1309) {BECHTEL NO.};
  \node[ctr, fs=9] (rf2) at (2711,1309) {PL NO.};
  \node[ctr] (rf3) at (2456,1358) {M-112};
  \node[ctr] (rf4) at (2711,1358) {E-106217};
  \node[ctr, fs=8] (rf5) at (2456,1406) {J-112, SH 2};
  \node[ctr, fs=8] (rf6) at (2711,1406) {B-103402, SH 2};
  \node[lbl, fs=6.2, text=ink!80] (rf7) at (2357,1456) {E-150 SH 14};
  \node[ctr, fs=4.5, text=ink!80] (rf8) at (2546,1454) {REV\\[1pt]13};
  \node[ctr, fs=7, text=ink!80] (rf9) at (2711,1456) {D-107299 {\fontsize{5}{5}\selectfont SH 14}};
  \node[lbl, fs=6.2, text=ink!80] (rf10) at (2357,1500) {E-150 SH 31};
  \node[ctr, fs=4.5, text=ink!80] (rf11) at (2546,1502) {REV\\[1pt]{\fontsize{6}{6}\selectfont 4}};
  \node[ctr, fs=7, text=ink!80] (rf12) at (2711,1502) {D-107299 {\fontsize{5}{5}\selectfont SH 31}};
  \node[lbl, fs=6.2, text=ink!80] (rf13) at (2352,1553) {E-150 SH 32};
  \node[ctr, fs=4.5, text=ink!80] (rf14) at (2546,1552) {REV\\[1pt]{\fontsize{6}{6}\selectfont 8}};
  \node[ctr, fs=7, text=ink!80] (rf15) at (2711,1553) {D-107299 {\fontsize{5}{5}\selectfont SH 32}};
  \node[lbl, fs=6.2, text=ink!80] (rf16) at (2352,1598) {E-182 SH 29};
  \node[ctr, fs=7, text=ink!80] (rf17) at (2711,1598) {D-107334 {\fontsize{5}{5}\selectfont SH 29}};
  \draw[cloudline] plot[smooth cycle] coordinates {(2877,1431) (2752,1426) (2560,1427) (2329,1424) (2191,1430) (2150,1476) (2160,1510)
    (2153,1545) (2196,1590) (2329,1619) (2650,1625) (2829,1630) (2880,1608) (2894,1539) (2890,1481)};
  \node[revtri] (tri4) at (2233,1504) {4};
  % title block
  \draw[tabline] (2922,1169) rectangle (3585,1206);
  \draw[tabline] (2969,1169) -- (2969,1206) (3029,1169) -- (3029,1206) (3337,1169) -- (3337,1206) (3376,1169) -- (3376,1206)
    (3416,1169) -- (3416,1206) (3461,1169) -- (3461,1206) (3498,1169) -- (3498,1206) (3537,1169) -- (3537,1206);
  \draw[tabline] (2927,1206) -- (2927,1805)
    (2927,1247) -- (3585,1247) (2927,1289) -- (3585,1289) (2927,1330) -- (3585,1330) (2927,1360) -- (3585,1360)
    (2927,1389) -- (3585,1389) (2927,1489) -- (3585,1489) (2927,1528) -- (3585,1528) (2927,1636) -- (3585,1636)
    (2927,1731) -- (3585,1731) (3068,1671) -- (3585,1671);
  \draw[tabline] (2971,1206) -- (2971,1360) (3031,1206) -- (3031,1360) (3339,1206) -- (3339,1360) (3380,1206) -- (3380,1360)
    (3419,1206) -- (3419,1389) (3463,1206) -- (3463,1360) (3503,1206) -- (3503,1360) (3542,1206) -- (3542,1360)
    (3072,1360) -- (3072,1389) (3267,1360) -- (3267,1389)
    (3068,1636) -- (3068,1731) (3230,1636) -- (3230,1805) (3526,1636) -- (3526,1731);
  \node[revtri, minimum size=11pt] (tb0) at (2947,1194) {};
  \node[revtri, minimum size=11pt, fs=4.5] (tb1) at (2949,1232) {4};
  \node[revtri, minimum size=11pt, fs=4.5] (tb2) at (2949,1274) {3};
  \node[revtri, minimum size=11pt, fs=4.5] (tb3) at (2949,1316) {2};
  \node[ctr, fs=4.2, text=ink!80] (tb4) at (3001,1227) {8/9/87};
  \node[lbl, fs=5.6, text=ink!80] (tb5) at (3053,1217) {ISSUED "AS BUILT"};
  \node[lbl, fs=5.6, text=ink!80] (tb6) at (3053,1238) {REVISED PER DCR-42};
  \node[ctr, fs=5, text=ink!80] (tb7) at (3358,1227) {GLT};
  \node[ctr, fs=5, text=ink!80] (tb8) at (3441,1229) {JHE};
  \node[ctr, fs=4.5] (tb9) at (3001,1268) {2-27\\[1pt]78};
  \node[lbl, fs=6.4] (tb10) at (3037,1272) {REVISED AS NOTED};
  \node[ctr, fs=5, text=ink!80] (tb11) at (3483,1275) {PJR};
  \node[ctr, fs=4.8] (tb12) at (2998,1311) {7-29\\[1pt]-75};
  \node[lbl, fs=6.4] (tb13) at (3037,1312) {REVISED AND REDRAWN};
  \node[ctr, fs=5] (tb14) at (3394,1311) {\bfseries TCK};
  \node[ctr, fs=4.8] (tb15) at (3436,1311) {\bfseries AB\\[1pt]\bfseries GNK};
  \node[ctr, fs=4.8] (tb16) at (3478,1311) {\bfseries MLK\\[1pt]\bfseries LOV};
  \draw[wire] (3390,1210) .. controls (3402,1222) and (3375,1228) .. (3398,1236) .. controls (3410,1226) and (3388,1218) .. (3412,1208);
  \draw[wire] (3470,1240) .. controls (3480,1222) and (3486,1216) .. (3490,1208) .. controls (3490,1226) and (3478,1222) .. (3494,1240);
  \draw[wire] (3396,1252) .. controls (3388,1268) and (3392,1284) .. (3402,1286) .. controls (3410,1280) and (3408,1260) .. (3396,1252);
  \draw[wire] (3430,1285) .. controls (3450,1278) and (3456,1260) .. (3460,1250) (3426,1268) .. controls (3440,1262) and (3448,1258) .. (3456,1252);
  \node[ctr, fs=3] (tf1) at (2949,1345) {No.};
  \node[ctr, fs=3] (tf2) at (3001,1345) {DATE};
  \node[ctr, fs=3] (tf3) at (3186,1345) {REVISIONS};
  \node[ctr, fs=3] (tf4) at (3361,1345) {BY};
  \node[ctr, fs=3] (tf5) at (3399,1345) {CHKD};
  \node[ctr, fs=3] (tf6) at (3441,1345) {DESIGN\\[1pt]SUPV};
  \node[ctr, fs=3] (tf7) at (3483,1345) {ENGR};
  \node[ctr, fs=3] (tf8) at (3523,1345) {PROJ\\[1pt]ENGR};
  \node[ctr, fs=3] (tf9) at (3561,1345) {APP'S};
  \node[ctr, fs=3] (ts1) at (2954,1373) {SCALE};
  \draw[wire] (2986,1369) -- (3037,1369);
  \node[ctr, fs=3] (ts2) at (3110,1373) {DESIGNED};
  \node[ctr, fs=6.5] (ts3) at (3168,1376) {LOV};
  \node[ctr, fs=3] (ts4) at (3298,1373) {DRAWN};
  \draw[wire] (3334,1369) -- (3384,1369);
  \node[ctr, fs=3] (ts5) at (3441,1373) {CHIEF\\[1pt]ENGR};
  \node[ctr, font=\narrowfont\bfseries\fontsize{9}{9}\selectfont] (co1) at (3257,1419) {PENNSYLVANIA POWER \& LIGHT COMPANY};
  \node[ctr, font=\stampfont\fontsize{3.6}{3.6}\selectfont, text=ink!75] (co2) at (3257,1449) {ALLENTOWN PENNSYLVANIA};
  \node[ctr, font=\stampfont\fontsize{3.9}{3.9}\selectfont, text=ink!70] (co3) at (3257,1474) {SUSQUEHANNA STEAM ELECTRIC STATION -- UNIT 1, UNIT 2};
  \node[ctr, font=\stampfont\fontsize{5}{5}\selectfont, text=ink!75] (co4) at (3257,1508) {BECHTEL --- SAN FRANCISCO};
  \node[ctr, fs=9.5] (ti1) at (3248,1550) {\bfseries LOGIC DIAGRAM};
  \node[ctr, fs=9.5] (ti2) at (3248,1584) {\bfseries RHR SERVICE WATER SYSTEM};
  \node[ctr, fs=9.5] (ti3) at (3248,1618) {\bfseries SPRAY POND BYPASS VALVES};
  \node[ctr, fs=4.5] (jb1) at (3149,1655) {\bfseries JOB No.};
  \node[ctr, fs=4.5] (jb2) at (3376,1655) {\bfseries DRAWING No.};
  \node[ctr, fs=4.5] (jb3) at (3557,1655) {\bfseries REV.};
  \node[ctr, fs=10] (jb4) at (3147,1699) {\bfseries 8856};
  \node[lbl, fs=11.5] (jb5) at (3250,1703) {J-112};
  \node[lbl, fs=7.5] (jb6) at (3379,1703) {SH};
  \node[lbl, fs=14] (jb7) at (3430,1703) {7};
  \node[ctr, fs=12] (jb8) at (3552,1703) {4};
  \node[lbl, fs=12.5] (jb9) at (3246,1772) {B-103402};
  \node[ctr, fs=6.5] (jb10) at (3484,1771) {S\\[1pt]H};
  \node[lbl, fs=14] (jb11) at (3515,1772) {7};
  \node[circle, draw=ink, line width=0.7pt, minimum size=84*0.01cm] (lg1) at (3004,1683) {};
  \node[rotate=28, fill=paper, draw=ink, line width=1pt, inner sep=2pt, font=\narrowfont\bfseries\fontsize{8}{8}\selectfont] (lg2) at (3004,1683) {BECHTEL};
  % sheet border
  \draw[draw=ink, line width=0.7pt] (16,18) rectangle (3585,1802);
\end{tikzpicture}
\end{document}
